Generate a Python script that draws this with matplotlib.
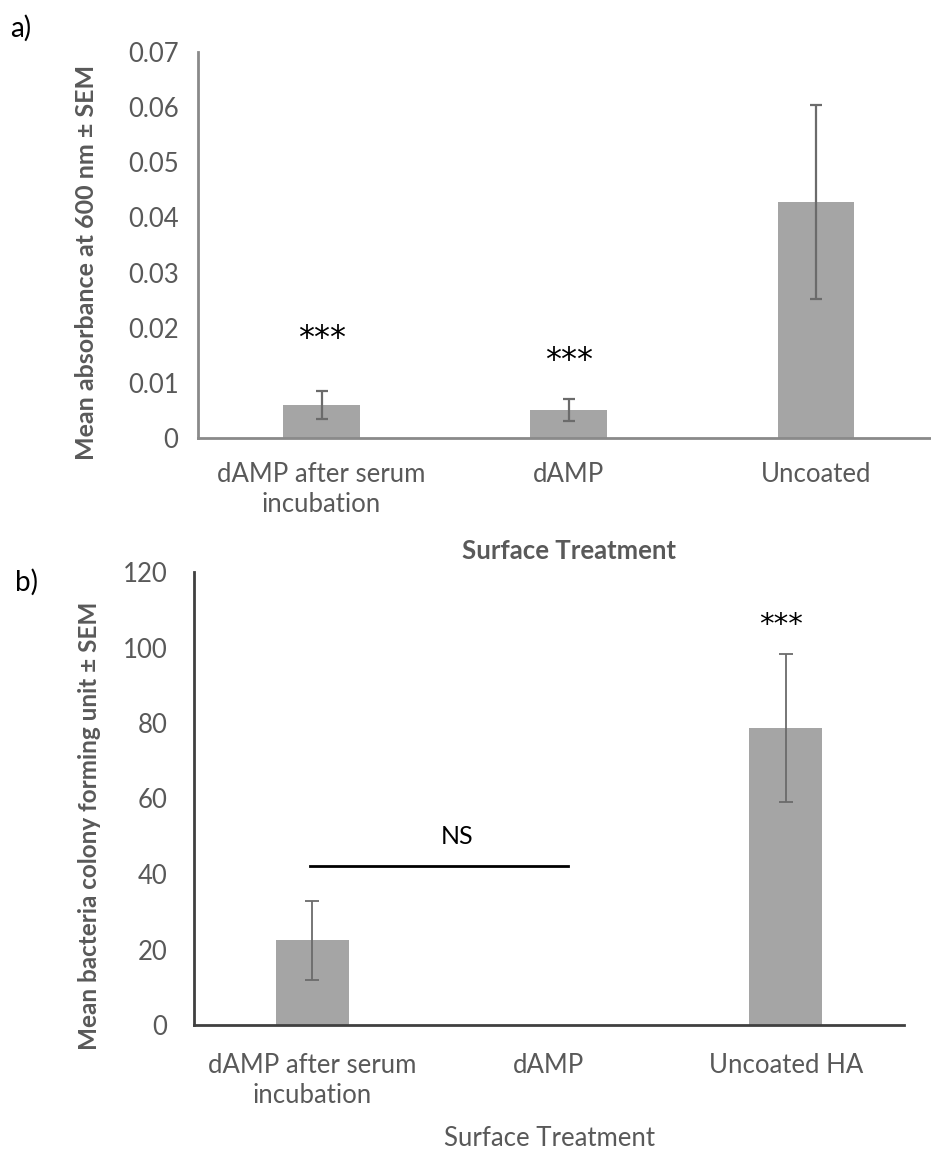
import numpy as np
import matplotlib.pyplot as plt

# panel a: absorbance
cats_a = ["dAMP after serum\nincubation", "dAMP", "Uncoated"]
mean_a = [0.0060, 0.0050, 0.0428]
sem_a = [0.0025, 0.0020, 0.0176]

# panel b: colony forming units
cats_b = ["dAMP after serum\nincubation", "dAMP", "Uncoated HA"]
mean_b = [22.4, 0.0, 78.6]
sem_b = [10.4, 0.0, 19.6]

bar_col = "#A5A5A5"
err_col = "#6b6b6b"
txt_col = "#595959"

W, H = 931, 1156
fig = plt.figure(figsize=(W / 100, H / 100), dpi=100)

fa = ["Lato", "DejaVu Sans"]
fs = ["DejaVu Sans"]

# ---------- a ----------
ax1 = fig.add_axes([198 / W, 1 - 438 / H, 741.5 / W, 386 / H])
x = np.arange(len(cats_a))
ax1.bar(x, mean_a, width=0.31, color=bar_col, zorder=2)
ax1.errorbar(x, mean_a, yerr=sem_a, fmt="none", ecolor=err_col,
             elinewidth=1.6, capsize=4, capthick=1.6, zorder=3)
ax1.set_xlim(-0.5, 2.5)
ax1.set_ylim(0, 0.07)
ax1.set_yticks(np.arange(0, 0.071, 0.01))
ax1.set_yticklabels(["0"] + [f"{v:.2f}" for v in np.arange(0.01, 0.071, 0.01)])
ax1.set_xticks(x)
ax1.set_xticklabels(cats_a, linespacing=1.25)
ax1.tick_params(axis="both", length=0, colors=txt_col, labelsize=18.5)
ax1.tick_params(axis="x", pad=17)
ax1.tick_params(axis="y", pad=14)
for lab in ax1.get_xticklabels() + ax1.get_yticklabels():
    lab.set_family(fa)
for s in ["top", "right"]:
    ax1.spines[s].set_visible(False)
for s in ["left", "bottom"]:
    ax1.spines[s].set_color("#8a8a8a")
    ax1.spines[s].set_linewidth(2)
ax1.set_ylabel("Mean absorbance at 600 nm \u00b1 SEM", fontsize=18,
               fontweight="bold", color=txt_col, family=fa)
ax1.yaxis.set_label_coords(-0.135, 0.455)
ax1.set_xlabel("Surface Treatment", fontsize=18.5, fontweight="bold",
               color=txt_col, family=fa)
ax1.xaxis.set_label_coords(0.5, -0.262)
ax1.text(0, 0.018, "***", ha="center", va="center", fontsize=23, family=fs)
ax1.text(1, 0.014, "***", ha="center", va="center", fontsize=23, family=fs)

# ---------- b ----------
ax2 = fig.add_axes([194 / W, 1 - 1025 / H, 710 / W, 453 / H])
x = np.arange(len(cats_b))
ax2.bar(x, mean_b, width=0.31, color=bar_col, zorder=2)
ax2.errorbar(x[[0, 2]], np.array(mean_b)[[0, 2]], yerr=np.array(sem_b)[[0, 2]],
             fmt="none", ecolor=err_col, elinewidth=1.3, capsize=5,
             capthick=1.3, zorder=3)
ax2.set_xlim(-0.5, 2.5)
ax2.set_ylim(0, 120)
ax2.set_yticks(np.arange(0, 121, 20))
ax2.set_xticks(x)
ax2.set_xticklabels(cats_b, linespacing=1.25)
ax2.tick_params(axis="both", length=0, colors=txt_col, labelsize=18.5)
ax2.tick_params(axis="x", pad=20)
ax2.tick_params(axis="y", pad=19)
for lab in ax2.get_xticklabels() + ax2.get_yticklabels():
    lab.set_family(fa)
for s in ["top", "right"]:
    ax2.spines[s].set_visible(False)
for s in ["left", "bottom"]:
    ax2.spines[s].set_color("#404040")
    ax2.spines[s].set_linewidth(2)
ax2.set_ylabel("Mean bacteria colony forming unit \u00b1 SEM", fontsize=17.5,
               fontweight="bold", color=txt_col, family=fa)
ax2.yaxis.set_label_coords(-0.131, 0.44)
ax2.set_xlabel("Surface Treatment", fontsize=18.5, color=txt_col, family=fa)
ax2.xaxis.set_label_coords(0.5, -0.222)
ax2.plot([-0.01, 1.08], [42, 42], color="black", lw=2, zorder=3)
ax2.text(0.61, 50, "NS", ha="center", va="center", fontsize=18, family=fa)
ax2.text(1.98, 106, "***", ha="center", va="center", fontsize=21, family=fs)

fig.text(10 / W, 1 - 28 / H, "a)", fontsize=20, va="center", family=fa)
fig.text(15 / W, 1 - 582 / H, "b)", fontsize=20, va="center", family=fa)

fig.savefig("out.png", dpi=100)
